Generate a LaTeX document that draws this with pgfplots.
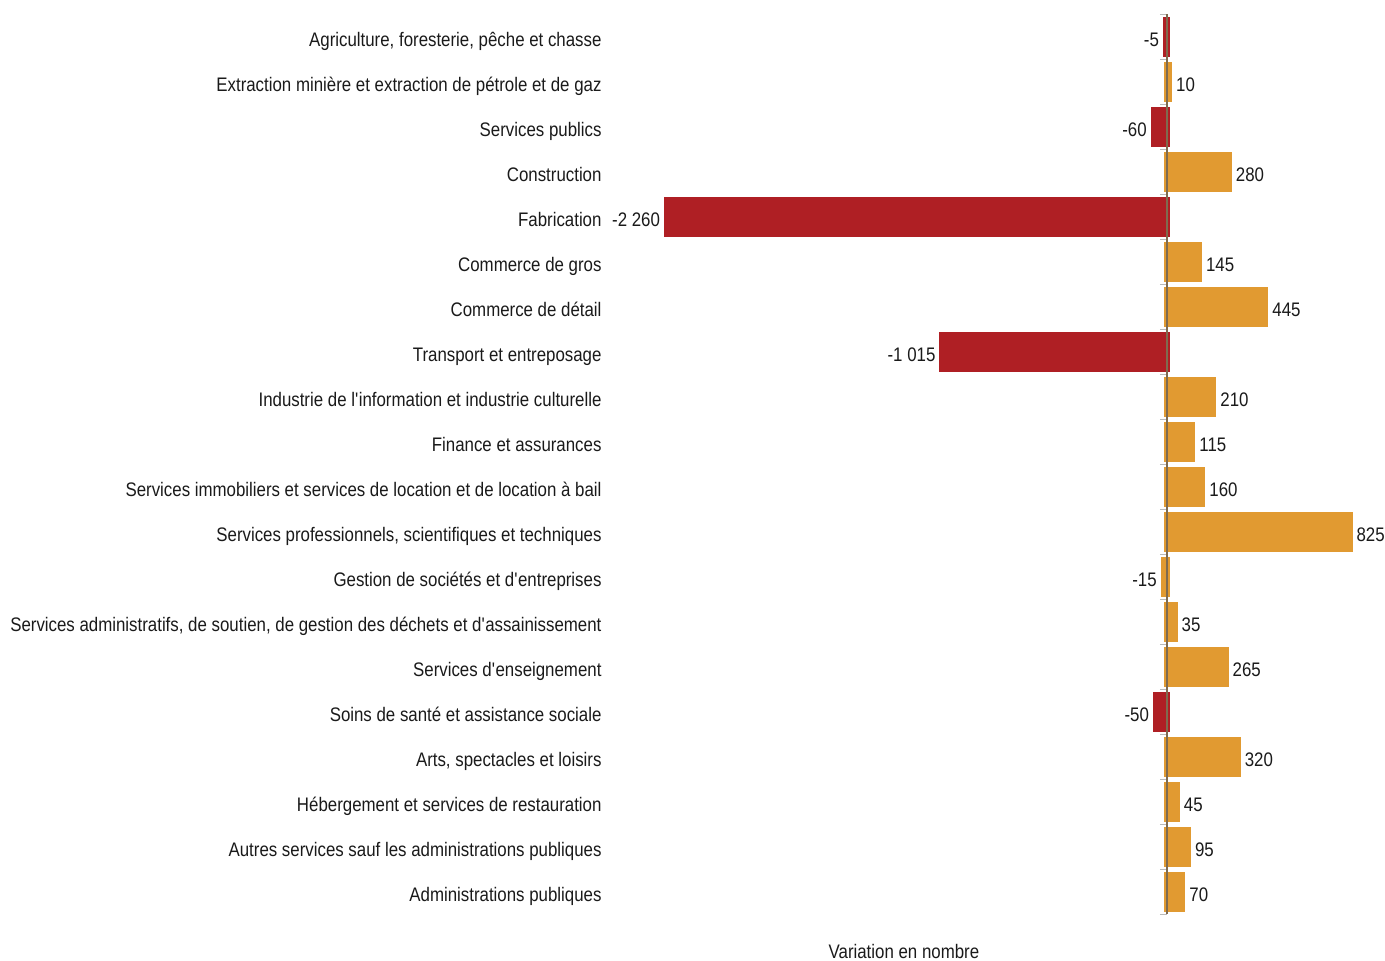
\documentclass[border=0pt]{standalone}
\usepackage{pgfplots}
\pgfplotsset{compat=1.18}
\usepackage{fontspec}
\setmainfont{Liberation Sans}[FakeStretch=0.86]
\definecolor{negred}{HTML}{AF1F24}
\definecolor{posorange}{HTML}{E19A31}
\definecolor{zeroline}{HTML}{7F6B4F}
\definecolor{txt}{HTML}{1A1A1A}
\newcommand{\lblfont}{\fontsize{9.8}{11}\selectfont}
\newcommand{\q}{\textquotesingle}

\begin{document}
\begin{tikzpicture}
\begin{axis}[
    xbar,
    x=0.11062pt, y=22.5pt,
    y dir=reverse,
    xmin=-2554, xmax=985,
    ymin=0.5, ymax=20.5,
    axis line style={draw=none},
    axis on top,
    clip=false,
    xtick=\empty,
    ytick={1,...,20},
    major tick length=0pt,
    yticklabels={
        {Agriculture, foresterie, pêche et chasse},
        {Extraction minière et extraction de pétrole et de gaz},
        {Services publics},
        {Construction},
        {Fabrication},
        {Commerce de gros},
        {Commerce de détail},
        {Transport et entreposage},
        {Industrie de l\q{}information et industrie culturelle},
        {Finance et assurances},
        {Services immobiliers et services de location et de location à bail},
        {Services professionnels, scientifiques et techniques},
        {Gestion de sociétés et d\q{}entreprises},
        {Services administratifs, de soutien, de gestion des déchets et d\q{}assainissement},
        {Services d\q{}enseignement},
        {Soins de santé et assistance sociale},
        {Arts, spectacles et loisirs},
        {Hébergement et services de restauration},
        {Autres services sauf les administrations publiques},
        {Administrations publiques}},
    yticklabel style={font=\lblfont, text=txt, inner sep=0pt, anchor=base east, yshift=-5pt},
    extra x ticks={0},
    extra x tick labels={},
    extra x tick style={grid=major, major grid style={zeroline, line width=0.6pt}},
    xlabel={Variation en nombre},
    xlabel style={at={(axis description cs:0.3857,0)}, anchor=center, yshift=-18.5pt, font=\lblfont, text=txt},
    bar width=17pt,
    bar shift=0pt,
    point meta=explicit symbolic,
    nodes near coords,
    nodes near coords style={font=\lblfont, text=txt, inner sep=2pt, yshift=-1.5pt},
]
% negative values (red)
\addplot[fill=negred, draw=negred, line width=3pt, nodes near coords style={anchor=east}]
coordinates {(-5,1) [-5] (-60,3) [-60] (-2260,5) [-2 260] (-1015,8) [-1 015] (-50,16) [-50]};
% negative value shown in orange
\addplot[fill=posorange, draw=posorange, line width=3pt, nodes near coords style={anchor=east}]
coordinates {(-15,13) [-15]};
% positive values (orange)
\addplot[fill=posorange, draw=posorange, line width=3pt, nodes near coords style={anchor=west}]
coordinates {(10,2) [10] (280,4) [280] (145,6) [145] (445,7) [445] (210,9) [210]
 (115,10) [115] (160,11) [160] (825,12) [825] (35,14) [35] (265,15) [265]
 (320,17) [320] (45,18) [45] (95,19) [95] (70,20) [70]};
\pgfplotsinvokeforeach{0.5,1.5,...,20.5}{
  \draw[gray!55, line width=0.5pt] (axis cs:-32,#1) -- (axis cs:0,#1);
}
\coordinate (TL) at (axis cs:0,0.5);
\end{axis}
\pgfresetboundingbox
\path[use as bounding box] ([xshift=-583.5pt,yshift=7pt]TL) rectangle ([xshift=109pt,yshift=-473pt]TL);
\end{tikzpicture}
\end{document}
